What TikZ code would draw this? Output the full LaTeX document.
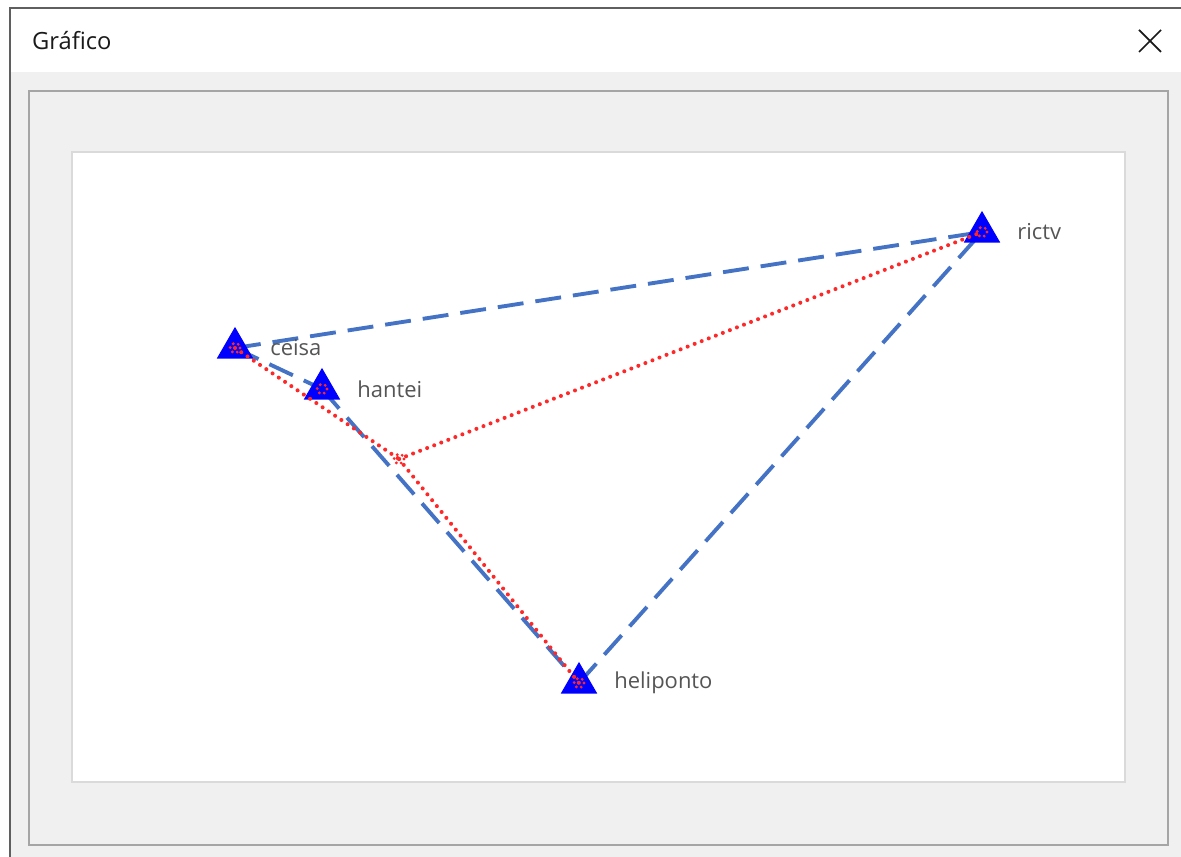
\documentclass[tikz,border=0pt]{standalone}
\usepackage{fontspec}
\newfontfamily\uifont{Open Sans}
\usetikzlibrary{positioning,shapes.geometric,calc}
\definecolor{GrTitle}{RGB}{26,26,26}
\definecolor{GrFrame}{RGB}{95,95,95}
\definecolor{GrPanel}{RGB}{240,240,240}
\definecolor{GrSunken}{RGB}{165,165,165}
\definecolor{GrPlotEdge}{RGB}{218,218,218}
\definecolor{GrStation}{RGB}{0,0,255}
\definecolor{GrLink}{RGB}{68,114,196}
\definecolor{GrRoute}{RGB}{255,40,40}
\definecolor{GrLabel}{RGB}{85,85,85}
\tikzset{
  gr/station/.style={
    regular polygon,
    regular polygon sides=3,
    minimum size=0.8cm,
    inner sep=0pt,
    fill=GrStation,
    draw=GrStation,
    line width=0.6pt
  },
  gr/label/.style={font=\uifont\fontsize{12.5}{14}\selectfont, text=GrLabel},
  gr/link/.style={draw=GrLink, line width=2.2pt, dash pattern=on 0.52cm off 0.24cm},
  gr/route/.style={draw=GrRoute, line width=2.3pt, line cap=round, dash pattern=on 0pt off 4.3pt},
  gr/pin/.style={draw=GrRoute, line width=1.8pt, line cap=round, dash pattern=on 0pt off 3pt}
}

\begin{document}
\begin{tikzpicture}[x=0.02cm,y=-0.02cm]
  \useasboundingbox (0,0) rectangle (1181,857);
  % window
  \fill[white] (0,0) rectangle (1181,857);
  \fill[GrPanel] (10,72) rectangle (1181,857);
  \draw[GrFrame, line width=1.2pt] (10,857) -- (10,8) -- (1181,8);
  \node[font=\uifont\fontsize{13.5}{16}\selectfont, text=GrTitle, anchor=west] (title) at (26,41) {Gráfico};
  \coordinate (close) at (1150,41);
  \draw[GrTitle, line width=1pt] ($(close)+(-11,-11)$) -- ($(close)+(11,11)$);
  \draw[GrTitle, line width=1pt] ($(close)+(-11,11)$) -- ($(close)+(11,-11)$);
  \draw[GrSunken, line width=1.2pt] (29,845) -- (29,91) -- (1168,91) -- (1168,845) -- cycle;
  \fill[white] (72,152) rectangle (1125,782);
  \draw[GrPlotEdge, line width=1pt] (72,152) rectangle (1125,782);

  % stations
  \coordinate (ceisaC) at (235,348);
  \coordinate (hanteiC) at (322,389);
  \coordinate (rictvC) at (982,232);
  \coordinate (heliC) at (579,683);
  \coordinate (junc) at (399,459);

  \draw[gr/link] (ceisaC) -- (rictvC);
  \draw[gr/link] (ceisaC) -- (hanteiC);
  \draw[gr/link] (hanteiC) -- (heliC);
  \draw[gr/link] (heliC) -- (rictvC);

  \node[gr/station] (ceisa) at (ceisaC) {};
  \node[gr/station] (hantei) at (hanteiC) {};
  \node[gr/station] (rictv) at (rictvC) {};
  \node[gr/station] (heli) at (heliC) {};

  \draw[gr/route] (ceisa.center) -- (junc);
  \draw[gr/route] (junc) -- (rictv.center);
  \draw[gr/route] (junc) -- (heli.center);
  \foreach \s in {ceisa,hantei,rictv,heli,junc}{
    \draw[gr/pin] (\s) circle (5);
  }

  \node[gr/label, right=0.34cm of ceisa] (ceisaL) {ceisa};
  \node[gr/label, right=0.34cm of hantei] (hanteiL) {hantei};
  \node[gr/label, right=0.34cm of rictv] (rictvL) {rictv};
  \node[gr/label, right=0.34cm of heli] (heliL) {heliponto};
\end{tikzpicture}
\end{document}
